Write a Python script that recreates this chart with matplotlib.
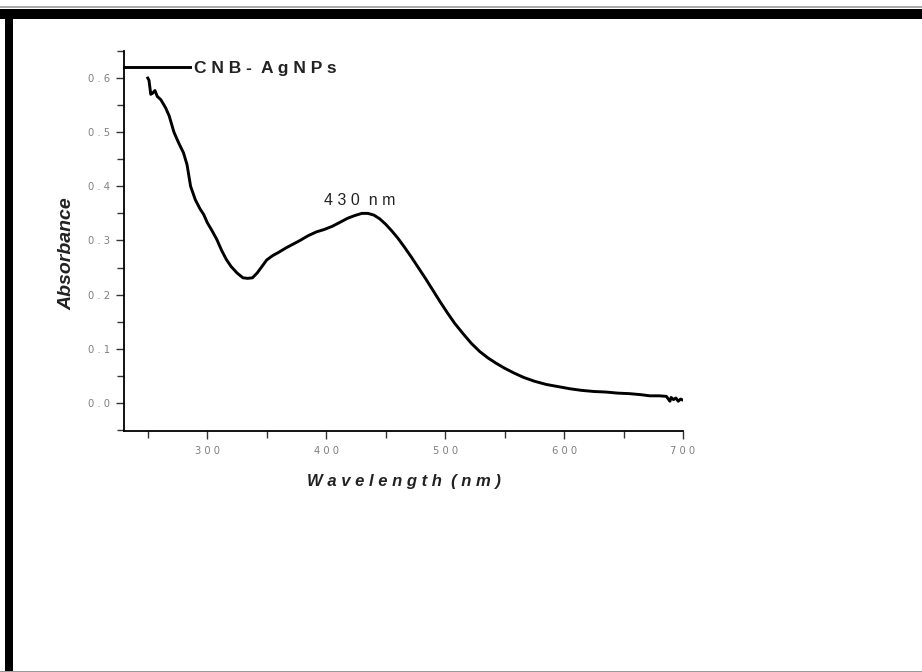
import matplotlib
matplotlib.use("Agg")
import matplotlib.pyplot as plt
from matplotlib.patches import Rectangle
from matplotlib.ticker import MultipleLocator, FuncFormatter

wavelength = [250, 251, 252.5, 254, 256, 258, 261, 265, 268, 272, 276, 280, 283, 286,
              290, 294, 297, 300, 304, 308, 312, 316, 320, 325, 330, 334, 338, 342,
              346, 350, 355, 360, 366, 372, 378, 385, 392, 398, 405, 412, 418, 424,
              430, 435, 440, 445, 450, 455, 460, 466, 472, 478, 484, 490, 496, 502,
              508, 515, 522, 529, 536, 543, 550, 558, 566, 575, 585, 595, 605, 615,
              625, 635, 645, 655, 665, 672, 680, 686, 689, 690, 692, 694, 696, 698, 700]
absorbance = [0.600, 0.596, 0.570, 0.572, 0.577, 0.566, 0.560, 0.545, 0.530, 0.500,
              0.480, 0.462, 0.440, 0.400, 0.375, 0.358, 0.348, 0.333, 0.318, 0.302,
              0.282, 0.265, 0.252, 0.240, 0.231, 0.230, 0.231, 0.240, 0.252, 0.264,
              0.272, 0.278, 0.286, 0.293, 0.300, 0.309, 0.316, 0.320, 0.326, 0.334,
              0.341, 0.346, 0.350, 0.350, 0.347, 0.340, 0.330, 0.318, 0.305, 0.287,
              0.268, 0.248, 0.228, 0.207, 0.186, 0.166, 0.147, 0.128, 0.110, 0.095,
              0.083, 0.073, 0.064, 0.055, 0.047, 0.040, 0.034, 0.030, 0.026, 0.023,
              0.021, 0.020, 0.018, 0.017, 0.015, 0.013, 0.013, 0.012, 0.003, 0.010,
              0.006, 0.009, 0.003, 0.007, 0.005]

series_label = "C N B -  A g N P s"
peak_label = "4 3 0  n m"
peak_pos = (398, 0.374)
x_label = "W a v e l e n g t h  ( n m )"
y_label = "Absorbance"

fig = plt.figure(figsize=(9.22, 6.72), dpi=100)
fig.patch.set_facecolor("white")

# outer frame bits
fig.patches.append(Rectangle((0, 1 - 19/672), 1, 10/672, transform=fig.transFigure,
                             facecolor="black", edgecolor="none", zorder=0))
fig.patches.append(Rectangle((5/922, 0), 8/922, 1 - 9/672, transform=fig.transFigure,
                             facecolor="black", edgecolor="none", zorder=0))
fig.patches.append(Rectangle((0, 1 - 8/672), 1, 1.5/672, transform=fig.transFigure,
                             facecolor="#aaaaaa", edgecolor="none", zorder=0))
fig.patches.append(Rectangle((0, 0), 1, 1.5/672, transform=fig.transFigure,
                             facecolor="#999999", edgecolor="none", zorder=0))

ax = fig.add_axes([124/922, (672-431)/672, (683-124)/922, (431-51)/672])
ax.plot(wavelength, absorbance, color="black", lw=2.1, label=series_label)
ax.set_xlim(230, 700)
ax.set_ylim(-0.052, 0.65)

for s in ["top", "right"]:
    ax.spines[s].set_visible(False)
for s in ["left", "bottom"]:
    ax.spines[s].set_linewidth(1.3)

ax.xaxis.set_major_locator(MultipleLocator(100))
ax.xaxis.set_minor_locator(MultipleLocator(50))
ax.yaxis.set_major_locator(MultipleLocator(0.1))
ax.yaxis.set_minor_locator(MultipleLocator(0.05))
ax.tick_params(which="both", direction="out", width=1.0, color="#333333")
ax.tick_params(which="major", length=6)
ax.tick_params(which="minor", length=5)
ax.tick_params(axis="both", labelsize=7.2, labelcolor="#808080")
ax.tick_params(axis="x", pad=5)
ax.tick_params(axis="y", pad=4)

ax.xaxis.set_major_formatter(FuncFormatter(lambda v, p: " ".join(f"{v:.0f}")))
ax.yaxis.set_major_formatter(FuncFormatter(lambda v, p: " ".join(f"{abs(v):.1f}") if abs(v) > 1e-9 else "0 . 0"))

ax.set_xlabel(x_label, fontsize=12, fontweight="bold", fontstyle="italic",
              family="Liberation Sans", color="#222222", labelpad=13)
ax.set_ylabel(y_label, fontsize=14, fontweight="bold", fontstyle="italic",
              family="Liberation Sans", color="#222222", labelpad=9, y=0.468)

ax.text(peak_pos[0], peak_pos[1], peak_label, va="center", ha="left",
        fontsize=11.5, family="Liberation Sans", color="#222222")

leg = ax.legend(loc="upper left", bbox_to_anchor=(0.0, 0.973), frameon=False,
                handlelength=3.8, handletextpad=0.25, borderaxespad=0.0, borderpad=0.0,
                prop={"family": "Liberation Sans", "size": 12.5, "weight": "bold"})
for t in leg.get_texts():
    t.set_color("#222222")

fig.savefig("out.png", dpi=100, facecolor="white")
